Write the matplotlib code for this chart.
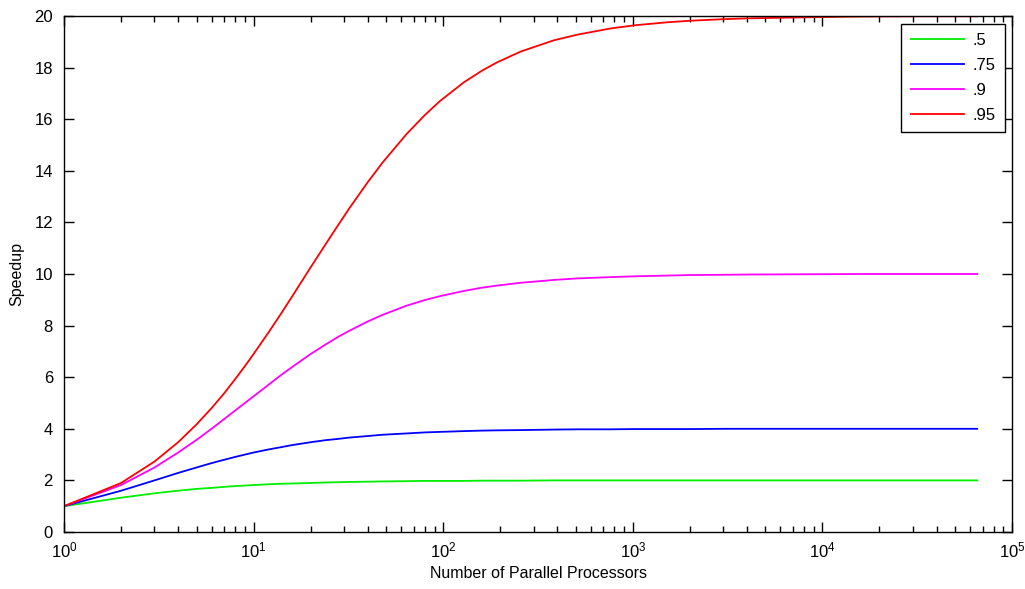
import matplotlib
matplotlib.use("Agg")
import matplotlib.pyplot as plt
from matplotlib.ticker import LogLocator, NullFormatter

processors = [1, 2, 3, 4, 5, 6, 7, 8, 9, 10,
              12, 14, 16, 20, 24, 28, 32, 40, 48,
              64, 80, 96, 128, 160, 192, 256,
              384, 512, 768, 1024, 1536, 2048, 3072, 4096, 8192, 16384, 32768, 65536]

speedup_50 = [1.00, 1.33, 1.50, 1.60, 1.67, 1.71, 1.75, 1.78, 1.80, 1.82,
              1.85, 1.87, 1.88, 1.90, 1.92, 1.93, 1.94, 1.95, 1.96,
              1.97, 1.98, 1.98, 1.98, 1.99, 1.99, 1.99,
              2.00, 2.00, 2.00, 2.00, 2.00, 2.00, 2.00, 2.00, 2.00, 2.00, 2.00, 2.00]
speedup_75 = [1.00, 1.60, 2.00, 2.29, 2.50, 2.67, 2.80, 2.91, 3.00, 3.08,
              3.20, 3.29, 3.37, 3.48, 3.56, 3.61, 3.66, 3.72, 3.77,
              3.82, 3.86, 3.88, 3.91, 3.93, 3.94, 3.95,
              3.97, 3.98, 3.98, 3.99, 3.99, 3.99, 4.00, 4.00, 4.00, 4.00, 4.00, 4.00]
speedup_90 = [1.00, 1.82, 2.50, 3.08, 3.57, 4.00, 4.38, 4.71, 5.00, 5.26,
              5.71, 6.09, 6.40, 6.90, 7.27, 7.57, 7.80, 8.16, 8.42,
              8.77, 8.99, 9.14, 9.34, 9.47, 9.55, 9.66,
              9.77, 9.83, 9.88, 9.91, 9.94, 9.96, 9.97, 9.98, 9.99, 10.00, 10.00, 10.00]
speedup_95 = [1.00, 1.90, 2.73, 3.48, 4.17, 4.80, 5.38, 5.93, 6.43, 6.90,
              7.74, 8.48, 9.14, 10.26, 11.16, 11.91, 12.55, 13.56, 14.33,
              15.42, 16.16, 16.70, 17.42, 17.88, 18.20, 18.62,
              19.06, 19.28, 19.52, 19.64, 19.76, 19.82, 19.88, 19.91, 19.95, 19.98, 19.99, 19.99]

labels = [".5", ".75", ".9", ".95"]
colors = ["#00ee00", "#0000ff", "#ff00ff", "#ff0000"]

plt.rcParams['font.family'] = ['Liberation Sans', 'DejaVu Sans']

fig = plt.figure(figsize=(10.25, 5.89), dpi=100)
ax = fig.add_axes([64/1025, 57/589, (1012-64)/1025, (532-16)/589])

for ys, lab, c in zip([speedup_50, speedup_75, speedup_90, speedup_95], labels, colors):
    ax.plot(processors, ys, color=c, lw=1.3, label=lab)

ax.set_xscale('log')
ax.set_xlim(1, 1e5)
ax.set_ylim(0, 20)
ax.set_yticks(range(0, 21, 2))
ax.xaxis.set_major_locator(LogLocator(base=10, numticks=10))
ax.xaxis.set_minor_locator(LogLocator(base=10, subs=range(2, 10), numticks=20))
ax.xaxis.set_minor_formatter(NullFormatter())

ax.tick_params(which='both', direction='in', top=True, right=True, labelsize=12, width=1)
ax.tick_params(axis='x', which='major', pad=6)
ax.tick_params(axis='y', which='major', pad=8)
ax.tick_params(which='major', length=7.5)
ax.tick_params(which='minor', length=4.5)
for s in ax.spines.values():
    s.set_linewidth(1.0)

ax.set_xlabel("Number of Parallel Processors", fontsize=11.5, labelpad=4)
ax.set_ylabel("Speedup", fontsize=11.5, labelpad=7)

leg = ax.legend(loc='upper right', fontsize=12, fancybox=False, edgecolor='black',
                framealpha=1, borderaxespad=0.45, handlelength=3.2, labelspacing=0.6,
                borderpad=0.55, handletextpad=0.5)
leg.get_frame().set_linewidth(1.0)

fig.savefig("out.png", dpi=100)
